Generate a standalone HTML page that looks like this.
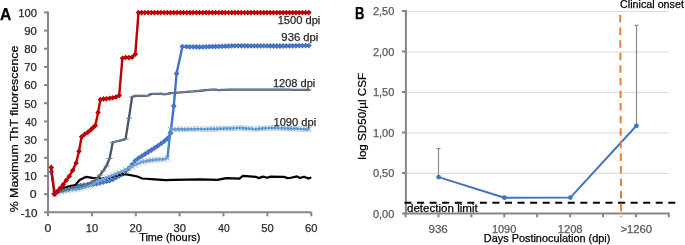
<!DOCTYPE html><html><head><meta charset="utf-8"><style>html,body{margin:0;padding:0;background:#fff;}svg{display:block;}.t{filter:grayscale(1)}text{font-family:"Liberation Sans", sans-serif;}</style></head><body>
<svg width="685" height="245" viewBox="0 0 685 245">
<rect width="685" height="245" fill="#fff"/>
<g stroke="#868686" stroke-width="2" fill="none">
<line x1="48" y1="11.4" x2="48" y2="213.3"/>
<line x1="47" y1="212.3" x2="311.3" y2="212.3"/>
<line x1="44" y1="212.3" x2="48" y2="212.3"/>
<line x1="44" y1="194.1" x2="48" y2="194.1"/>
<line x1="44" y1="175.9" x2="48" y2="175.9"/>
<line x1="44" y1="157.8" x2="48" y2="157.8"/>
<line x1="44" y1="139.6" x2="48" y2="139.6"/>
<line x1="44" y1="121.4" x2="48" y2="121.4"/>
<line x1="44" y1="103.2" x2="48" y2="103.2"/>
<line x1="44" y1="85.1" x2="48" y2="85.1"/>
<line x1="44" y1="66.9" x2="48" y2="66.9"/>
<line x1="44" y1="48.7" x2="48" y2="48.7"/>
<line x1="44" y1="30.6" x2="48" y2="30.6"/>
<line x1="44" y1="12.4" x2="48" y2="12.4"/>
<line x1="48.0" y1="212.3" x2="48.0" y2="216.3"/>
<line x1="91.9" y1="212.3" x2="91.9" y2="216.3"/>
<line x1="135.8" y1="212.3" x2="135.8" y2="216.3"/>
<line x1="179.6" y1="212.3" x2="179.6" y2="216.3"/>
<line x1="223.5" y1="212.3" x2="223.5" y2="216.3"/>
<line x1="267.4" y1="212.3" x2="267.4" y2="216.3"/>
<line x1="311.3" y1="212.3" x2="311.3" y2="216.3"/>
</g>
<polyline points="51.2,171.8 55.0,194.0 58.2,191.3 61.4,190.0 64.6,188.8 67.8,188.0 71.0,187.2 74.2,186.6 77.5,186.1 80.7,185.5 83.9,185.2 87.1,184.9 90.3,184.6 93.5,184.0 96.7,183.5 99.9,183.0 103.2,182.2 106.4,181.4 109.6,180.5 112.8,179.3 116.0,177.7 119.2,175.9 122.4,174.0 125.6,171.3 128.9,168.3 132.1,164.6 135.3,160.7 138.5,158.2 141.7,156.2 144.9,154.1 148.1,152.0 151.4,150.0 154.6,147.9 157.8,145.8 161.0,143.7 164.2,141.2 167.4,138.5 170.6,133.1 173.8,106.0 176.6,73.5 182.4,46.6 186.7,46.7 189.9,46.8 193.1,46.8 196.3,46.9 199.5,47.0 202.8,46.9 206.0,46.8 209.2,46.7 212.4,46.6 215.6,46.5 218.8,46.4 222.0,46.3 225.3,46.2 228.5,46.1 231.7,45.9 234.9,45.8 238.1,45.8 241.3,45.8 244.5,45.8 247.7,45.9 251.0,45.9 254.2,45.9 257.4,45.9 260.6,45.9 263.8,45.9 267.0,45.9 270.2,46.0 273.4,46.0 276.7,46.0 279.9,46.0 283.1,46.0 286.3,45.9 289.5,45.9 292.7,45.8 295.9,45.8 299.1,45.7 302.4,45.7 305.6,45.6 308.8,45.6" fill="none" stroke="#4472C4" stroke-width="2.4" stroke-linejoin="round" stroke-linecap="round" />
<path d="M51.2 168.9l2.9 2.9l-2.9 2.9l-2.9 -2.9z" fill="#4472C4"/>
<path d="M55.0 191.1l2.9 2.9l-2.9 2.9l-2.9 -2.9z" fill="#4472C4"/>
<path d="M58.2 188.4l2.9 2.9l-2.9 2.9l-2.9 -2.9z" fill="#4472C4"/>
<path d="M61.4 187.1l2.9 2.9l-2.9 2.9l-2.9 -2.9z" fill="#4472C4"/>
<path d="M64.6 185.9l2.9 2.9l-2.9 2.9l-2.9 -2.9z" fill="#4472C4"/>
<path d="M67.8 185.1l2.9 2.9l-2.9 2.9l-2.9 -2.9z" fill="#4472C4"/>
<path d="M71.0 184.3l2.9 2.9l-2.9 2.9l-2.9 -2.9z" fill="#4472C4"/>
<path d="M74.2 183.7l2.9 2.9l-2.9 2.9l-2.9 -2.9z" fill="#4472C4"/>
<path d="M77.5 183.2l2.9 2.9l-2.9 2.9l-2.9 -2.9z" fill="#4472C4"/>
<path d="M80.7 182.6l2.9 2.9l-2.9 2.9l-2.9 -2.9z" fill="#4472C4"/>
<path d="M83.9 182.3l2.9 2.9l-2.9 2.9l-2.9 -2.9z" fill="#4472C4"/>
<path d="M87.1 182.0l2.9 2.9l-2.9 2.9l-2.9 -2.9z" fill="#4472C4"/>
<path d="M90.3 181.7l2.9 2.9l-2.9 2.9l-2.9 -2.9z" fill="#4472C4"/>
<path d="M93.5 181.1l2.9 2.9l-2.9 2.9l-2.9 -2.9z" fill="#4472C4"/>
<path d="M96.7 180.6l2.9 2.9l-2.9 2.9l-2.9 -2.9z" fill="#4472C4"/>
<path d="M99.9 180.1l2.9 2.9l-2.9 2.9l-2.9 -2.9z" fill="#4472C4"/>
<path d="M103.2 179.3l2.9 2.9l-2.9 2.9l-2.9 -2.9z" fill="#4472C4"/>
<path d="M106.4 178.5l2.9 2.9l-2.9 2.9l-2.9 -2.9z" fill="#4472C4"/>
<path d="M109.6 177.6l2.9 2.9l-2.9 2.9l-2.9 -2.9z" fill="#4472C4"/>
<path d="M112.8 176.4l2.9 2.9l-2.9 2.9l-2.9 -2.9z" fill="#4472C4"/>
<path d="M116.0 174.8l2.9 2.9l-2.9 2.9l-2.9 -2.9z" fill="#4472C4"/>
<path d="M119.2 173.0l2.9 2.9l-2.9 2.9l-2.9 -2.9z" fill="#4472C4"/>
<path d="M122.4 171.1l2.9 2.9l-2.9 2.9l-2.9 -2.9z" fill="#4472C4"/>
<path d="M125.6 168.4l2.9 2.9l-2.9 2.9l-2.9 -2.9z" fill="#4472C4"/>
<path d="M128.9 165.4l2.9 2.9l-2.9 2.9l-2.9 -2.9z" fill="#4472C4"/>
<path d="M132.1 161.7l2.9 2.9l-2.9 2.9l-2.9 -2.9z" fill="#4472C4"/>
<path d="M135.3 157.8l2.9 2.9l-2.9 2.9l-2.9 -2.9z" fill="#4472C4"/>
<path d="M138.5 155.3l2.9 2.9l-2.9 2.9l-2.9 -2.9z" fill="#4472C4"/>
<path d="M141.7 153.3l2.9 2.9l-2.9 2.9l-2.9 -2.9z" fill="#4472C4"/>
<path d="M144.9 151.2l2.9 2.9l-2.9 2.9l-2.9 -2.9z" fill="#4472C4"/>
<path d="M148.1 149.1l2.9 2.9l-2.9 2.9l-2.9 -2.9z" fill="#4472C4"/>
<path d="M151.4 147.1l2.9 2.9l-2.9 2.9l-2.9 -2.9z" fill="#4472C4"/>
<path d="M154.6 145.0l2.9 2.9l-2.9 2.9l-2.9 -2.9z" fill="#4472C4"/>
<path d="M157.8 142.9l2.9 2.9l-2.9 2.9l-2.9 -2.9z" fill="#4472C4"/>
<path d="M161.0 140.8l2.9 2.9l-2.9 2.9l-2.9 -2.9z" fill="#4472C4"/>
<path d="M164.2 138.3l2.9 2.9l-2.9 2.9l-2.9 -2.9z" fill="#4472C4"/>
<path d="M167.4 135.6l2.9 2.9l-2.9 2.9l-2.9 -2.9z" fill="#4472C4"/>
<path d="M170.6 130.2l2.9 2.9l-2.9 2.9l-2.9 -2.9z" fill="#4472C4"/>
<path d="M173.8 103.1l2.9 2.9l-2.9 2.9l-2.9 -2.9z" fill="#4472C4"/>
<path d="M176.6 70.6l2.9 2.9l-2.9 2.9l-2.9 -2.9z" fill="#4472C4"/>
<path d="M182.4 43.7l2.9 2.9l-2.9 2.9l-2.9 -2.9z" fill="#4472C4"/>
<path d="M186.7 43.8l2.9 2.9l-2.9 2.9l-2.9 -2.9z" fill="#4472C4"/>
<path d="M189.9 43.9l2.9 2.9l-2.9 2.9l-2.9 -2.9z" fill="#4472C4"/>
<path d="M193.1 43.9l2.9 2.9l-2.9 2.9l-2.9 -2.9z" fill="#4472C4"/>
<path d="M196.3 44.0l2.9 2.9l-2.9 2.9l-2.9 -2.9z" fill="#4472C4"/>
<path d="M199.5 44.1l2.9 2.9l-2.9 2.9l-2.9 -2.9z" fill="#4472C4"/>
<path d="M202.8 44.0l2.9 2.9l-2.9 2.9l-2.9 -2.9z" fill="#4472C4"/>
<path d="M206.0 43.9l2.9 2.9l-2.9 2.9l-2.9 -2.9z" fill="#4472C4"/>
<path d="M209.2 43.8l2.9 2.9l-2.9 2.9l-2.9 -2.9z" fill="#4472C4"/>
<path d="M212.4 43.7l2.9 2.9l-2.9 2.9l-2.9 -2.9z" fill="#4472C4"/>
<path d="M215.6 43.6l2.9 2.9l-2.9 2.9l-2.9 -2.9z" fill="#4472C4"/>
<path d="M218.8 43.5l2.9 2.9l-2.9 2.9l-2.9 -2.9z" fill="#4472C4"/>
<path d="M222.0 43.4l2.9 2.9l-2.9 2.9l-2.9 -2.9z" fill="#4472C4"/>
<path d="M225.3 43.3l2.9 2.9l-2.9 2.9l-2.9 -2.9z" fill="#4472C4"/>
<path d="M228.5 43.2l2.9 2.9l-2.9 2.9l-2.9 -2.9z" fill="#4472C4"/>
<path d="M231.7 43.0l2.9 2.9l-2.9 2.9l-2.9 -2.9z" fill="#4472C4"/>
<path d="M234.9 42.9l2.9 2.9l-2.9 2.9l-2.9 -2.9z" fill="#4472C4"/>
<path d="M238.1 42.9l2.9 2.9l-2.9 2.9l-2.9 -2.9z" fill="#4472C4"/>
<path d="M241.3 42.9l2.9 2.9l-2.9 2.9l-2.9 -2.9z" fill="#4472C4"/>
<path d="M244.5 42.9l2.9 2.9l-2.9 2.9l-2.9 -2.9z" fill="#4472C4"/>
<path d="M247.7 43.0l2.9 2.9l-2.9 2.9l-2.9 -2.9z" fill="#4472C4"/>
<path d="M251.0 43.0l2.9 2.9l-2.9 2.9l-2.9 -2.9z" fill="#4472C4"/>
<path d="M254.2 43.0l2.9 2.9l-2.9 2.9l-2.9 -2.9z" fill="#4472C4"/>
<path d="M257.4 43.0l2.9 2.9l-2.9 2.9l-2.9 -2.9z" fill="#4472C4"/>
<path d="M260.6 43.0l2.9 2.9l-2.9 2.9l-2.9 -2.9z" fill="#4472C4"/>
<path d="M263.8 43.0l2.9 2.9l-2.9 2.9l-2.9 -2.9z" fill="#4472C4"/>
<path d="M267.0 43.0l2.9 2.9l-2.9 2.9l-2.9 -2.9z" fill="#4472C4"/>
<path d="M270.2 43.1l2.9 2.9l-2.9 2.9l-2.9 -2.9z" fill="#4472C4"/>
<path d="M273.4 43.1l2.9 2.9l-2.9 2.9l-2.9 -2.9z" fill="#4472C4"/>
<path d="M276.7 43.1l2.9 2.9l-2.9 2.9l-2.9 -2.9z" fill="#4472C4"/>
<path d="M279.9 43.1l2.9 2.9l-2.9 2.9l-2.9 -2.9z" fill="#4472C4"/>
<path d="M283.1 43.1l2.9 2.9l-2.9 2.9l-2.9 -2.9z" fill="#4472C4"/>
<path d="M286.3 43.0l2.9 2.9l-2.9 2.9l-2.9 -2.9z" fill="#4472C4"/>
<path d="M289.5 43.0l2.9 2.9l-2.9 2.9l-2.9 -2.9z" fill="#4472C4"/>
<path d="M292.7 42.9l2.9 2.9l-2.9 2.9l-2.9 -2.9z" fill="#4472C4"/>
<path d="M295.9 42.9l2.9 2.9l-2.9 2.9l-2.9 -2.9z" fill="#4472C4"/>
<path d="M299.1 42.8l2.9 2.9l-2.9 2.9l-2.9 -2.9z" fill="#4472C4"/>
<path d="M302.4 42.8l2.9 2.9l-2.9 2.9l-2.9 -2.9z" fill="#4472C4"/>
<path d="M305.6 42.7l2.9 2.9l-2.9 2.9l-2.9 -2.9z" fill="#4472C4"/>
<path d="M308.8 42.7l2.9 2.9l-2.9 2.9l-2.9 -2.9z" fill="#4472C4"/>
<polyline points="54.2,193.0 60.9,189.0 68.5,186.6 75.1,185.2 79.6,180.0 86.2,176.8 92.3,177.8 98.0,178.3 106.4,178.3 112.3,176.6 122.3,174.2 128.0,174.6 137.4,176.5 142.2,178.5 155.1,179.4 165.3,180.2 174.0,179.8 200.0,179.4 217.5,179.9 226.3,178.1 239.4,178.7 242.9,175.9 256.1,176.9 258.7,178.1 263.1,176.6 267.4,177.8 270.0,176.7 284.1,176.9 287.6,178.1 290.0,178.0 297.0,176.4 300.0,178.0 304.0,176.7 308.5,178.6 310.5,177.7" fill="none" stroke="#000" stroke-width="2.2" stroke-linejoin="round" stroke-linecap="round" />
<polyline points="54.4,194.0 58.2,192.4 61.4,191.7 64.6,191.1 67.8,190.4 71.0,189.9 74.2,189.4 77.5,189.0 80.7,188.4 83.9,187.4 87.1,186.4 90.3,185.3 93.5,183.6 96.7,181.9 99.9,180.4 103.2,179.1 106.4,177.7 109.6,176.4 112.8,175.1 116.0,173.8 119.2,172.6 122.4,171.3 125.6,169.8 128.9,168.1 132.1,166.5 135.3,164.9 138.5,163.4 141.7,161.9 144.9,161.4 148.1,160.8 151.4,160.2 154.6,159.9 157.8,159.6 161.0,159.4 164.2,159.2 167.4,158.2 170.6,129.4 173.8,129.4 177.1,129.3 180.3,129.3 183.5,129.3 186.7,129.2 189.9,129.2 193.1,129.2 196.3,129.1 199.5,129.1 202.8,129.1 206.0,129.1 209.2,129.0 212.4,129.0 215.6,129.0 218.8,128.8 222.0,128.7 225.3,128.5 228.5,128.4 231.7,128.3 234.9,128.1 238.1,128.0 241.3,128.0 244.5,128.3 247.7,128.6 251.0,128.8 254.2,129.1 257.4,129.0 260.6,128.6 263.8,128.3 267.0,128.1 270.2,128.0 273.4,127.9 276.7,128.0 279.9,128.1 283.1,128.2 286.3,128.4 289.5,128.5 292.7,128.6 295.9,128.7 299.1,128.9 302.4,129.1 305.6,129.2 308.8,129.4" fill="none" stroke="#4A86C6" stroke-width="2.4" stroke-linejoin="round" stroke-linecap="round" />
<path d="M51.7 191.3l5.4 5.4M57.1 191.3l-5.4 5.4" fill="none" stroke="#86B0DF" stroke-width="1"/>
<path d="M55.5 189.7l5.4 5.4M60.9 189.7l-5.4 5.4" fill="none" stroke="#86B0DF" stroke-width="1"/>
<path d="M58.7 189.0l5.4 5.4M64.1 189.0l-5.4 5.4" fill="none" stroke="#86B0DF" stroke-width="1"/>
<path d="M61.9 188.4l5.4 5.4M67.3 188.4l-5.4 5.4" fill="none" stroke="#86B0DF" stroke-width="1"/>
<path d="M65.1 187.7l5.4 5.4M70.5 187.7l-5.4 5.4" fill="none" stroke="#86B0DF" stroke-width="1"/>
<path d="M68.3 187.2l5.4 5.4M73.7 187.2l-5.4 5.4" fill="none" stroke="#86B0DF" stroke-width="1"/>
<path d="M71.5 186.7l5.4 5.4M76.9 186.7l-5.4 5.4" fill="none" stroke="#86B0DF" stroke-width="1"/>
<path d="M74.8 186.3l5.4 5.4M80.2 186.3l-5.4 5.4" fill="none" stroke="#86B0DF" stroke-width="1"/>
<path d="M78.0 185.7l5.4 5.4M83.4 185.7l-5.4 5.4" fill="none" stroke="#86B0DF" stroke-width="1"/>
<path d="M81.2 184.7l5.4 5.4M86.6 184.7l-5.4 5.4" fill="none" stroke="#86B0DF" stroke-width="1"/>
<path d="M84.4 183.7l5.4 5.4M89.8 183.7l-5.4 5.4" fill="none" stroke="#86B0DF" stroke-width="1"/>
<path d="M87.6 182.6l5.4 5.4M93.0 182.6l-5.4 5.4" fill="none" stroke="#86B0DF" stroke-width="1"/>
<path d="M90.8 180.9l5.4 5.4M96.2 180.9l-5.4 5.4" fill="none" stroke="#86B0DF" stroke-width="1"/>
<path d="M94.0 179.2l5.4 5.4M99.4 179.2l-5.4 5.4" fill="none" stroke="#86B0DF" stroke-width="1"/>
<path d="M97.2 177.7l5.4 5.4M102.6 177.7l-5.4 5.4" fill="none" stroke="#86B0DF" stroke-width="1"/>
<path d="M100.5 176.4l5.4 5.4M105.9 176.4l-5.4 5.4" fill="none" stroke="#86B0DF" stroke-width="1"/>
<path d="M103.7 175.0l5.4 5.4M109.1 175.0l-5.4 5.4" fill="none" stroke="#86B0DF" stroke-width="1"/>
<path d="M106.9 173.7l5.4 5.4M112.3 173.7l-5.4 5.4" fill="none" stroke="#86B0DF" stroke-width="1"/>
<path d="M110.1 172.4l5.4 5.4M115.5 172.4l-5.4 5.4" fill="none" stroke="#86B0DF" stroke-width="1"/>
<path d="M113.3 171.1l5.4 5.4M118.7 171.1l-5.4 5.4" fill="none" stroke="#86B0DF" stroke-width="1"/>
<path d="M116.5 169.9l5.4 5.4M121.9 169.9l-5.4 5.4" fill="none" stroke="#86B0DF" stroke-width="1"/>
<path d="M119.7 168.6l5.4 5.4M125.1 168.6l-5.4 5.4" fill="none" stroke="#86B0DF" stroke-width="1"/>
<path d="M122.9 167.1l5.4 5.4M128.3 167.1l-5.4 5.4" fill="none" stroke="#86B0DF" stroke-width="1"/>
<path d="M126.2 165.4l5.4 5.4M131.6 165.4l-5.4 5.4" fill="none" stroke="#86B0DF" stroke-width="1"/>
<path d="M129.4 163.8l5.4 5.4M134.8 163.8l-5.4 5.4" fill="none" stroke="#86B0DF" stroke-width="1"/>
<path d="M132.6 162.2l5.4 5.4M138.0 162.2l-5.4 5.4" fill="none" stroke="#86B0DF" stroke-width="1"/>
<path d="M135.8 160.7l5.4 5.4M141.2 160.7l-5.4 5.4" fill="none" stroke="#86B0DF" stroke-width="1"/>
<path d="M139.0 159.2l5.4 5.4M144.4 159.2l-5.4 5.4" fill="none" stroke="#86B0DF" stroke-width="1"/>
<path d="M142.2 158.7l5.4 5.4M147.6 158.7l-5.4 5.4" fill="none" stroke="#86B0DF" stroke-width="1"/>
<path d="M145.4 158.1l5.4 5.4M150.8 158.1l-5.4 5.4" fill="none" stroke="#86B0DF" stroke-width="1"/>
<path d="M148.7 157.5l5.4 5.4M154.1 157.5l-5.4 5.4" fill="none" stroke="#86B0DF" stroke-width="1"/>
<path d="M151.9 157.2l5.4 5.4M157.3 157.2l-5.4 5.4" fill="none" stroke="#86B0DF" stroke-width="1"/>
<path d="M155.1 156.9l5.4 5.4M160.5 156.9l-5.4 5.4" fill="none" stroke="#86B0DF" stroke-width="1"/>
<path d="M158.3 156.7l5.4 5.4M163.7 156.7l-5.4 5.4" fill="none" stroke="#86B0DF" stroke-width="1"/>
<path d="M161.5 156.5l5.4 5.4M166.9 156.5l-5.4 5.4" fill="none" stroke="#86B0DF" stroke-width="1"/>
<path d="M164.7 155.5l5.4 5.4M170.1 155.5l-5.4 5.4" fill="none" stroke="#86B0DF" stroke-width="1"/>
<path d="M167.9 126.7l5.4 5.4M173.3 126.7l-5.4 5.4" fill="none" stroke="#86B0DF" stroke-width="1"/>
<path d="M171.1 126.7l5.4 5.4M176.5 126.7l-5.4 5.4" fill="none" stroke="#86B0DF" stroke-width="1"/>
<path d="M174.4 126.6l5.4 5.4M179.8 126.6l-5.4 5.4" fill="none" stroke="#86B0DF" stroke-width="1"/>
<path d="M177.6 126.6l5.4 5.4M183.0 126.6l-5.4 5.4" fill="none" stroke="#86B0DF" stroke-width="1"/>
<path d="M180.8 126.6l5.4 5.4M186.2 126.6l-5.4 5.4" fill="none" stroke="#86B0DF" stroke-width="1"/>
<path d="M184.0 126.5l5.4 5.4M189.4 126.5l-5.4 5.4" fill="none" stroke="#86B0DF" stroke-width="1"/>
<path d="M187.2 126.5l5.4 5.4M192.6 126.5l-5.4 5.4" fill="none" stroke="#86B0DF" stroke-width="1"/>
<path d="M190.4 126.5l5.4 5.4M195.8 126.5l-5.4 5.4" fill="none" stroke="#86B0DF" stroke-width="1"/>
<path d="M193.6 126.4l5.4 5.4M199.0 126.4l-5.4 5.4" fill="none" stroke="#86B0DF" stroke-width="1"/>
<path d="M196.8 126.4l5.4 5.4M202.2 126.4l-5.4 5.4" fill="none" stroke="#86B0DF" stroke-width="1"/>
<path d="M200.1 126.4l5.4 5.4M205.5 126.4l-5.4 5.4" fill="none" stroke="#86B0DF" stroke-width="1"/>
<path d="M203.3 126.4l5.4 5.4M208.7 126.4l-5.4 5.4" fill="none" stroke="#86B0DF" stroke-width="1"/>
<path d="M206.5 126.3l5.4 5.4M211.9 126.3l-5.4 5.4" fill="none" stroke="#86B0DF" stroke-width="1"/>
<path d="M209.7 126.3l5.4 5.4M215.1 126.3l-5.4 5.4" fill="none" stroke="#86B0DF" stroke-width="1"/>
<path d="M212.9 126.3l5.4 5.4M218.3 126.3l-5.4 5.4" fill="none" stroke="#86B0DF" stroke-width="1"/>
<path d="M216.1 126.1l5.4 5.4M221.5 126.1l-5.4 5.4" fill="none" stroke="#86B0DF" stroke-width="1"/>
<path d="M219.3 126.0l5.4 5.4M224.7 126.0l-5.4 5.4" fill="none" stroke="#86B0DF" stroke-width="1"/>
<path d="M222.6 125.8l5.4 5.4M228.0 125.8l-5.4 5.4" fill="none" stroke="#86B0DF" stroke-width="1"/>
<path d="M225.8 125.7l5.4 5.4M231.2 125.7l-5.4 5.4" fill="none" stroke="#86B0DF" stroke-width="1"/>
<path d="M229.0 125.6l5.4 5.4M234.4 125.6l-5.4 5.4" fill="none" stroke="#86B0DF" stroke-width="1"/>
<path d="M232.2 125.4l5.4 5.4M237.6 125.4l-5.4 5.4" fill="none" stroke="#86B0DF" stroke-width="1"/>
<path d="M235.4 125.3l5.4 5.4M240.8 125.3l-5.4 5.4" fill="none" stroke="#86B0DF" stroke-width="1"/>
<path d="M238.6 125.3l5.4 5.4M244.0 125.3l-5.4 5.4" fill="none" stroke="#86B0DF" stroke-width="1"/>
<path d="M241.8 125.6l5.4 5.4M247.2 125.6l-5.4 5.4" fill="none" stroke="#86B0DF" stroke-width="1"/>
<path d="M245.0 125.9l5.4 5.4M250.4 125.9l-5.4 5.4" fill="none" stroke="#86B0DF" stroke-width="1"/>
<path d="M248.3 126.1l5.4 5.4M253.7 126.1l-5.4 5.4" fill="none" stroke="#86B0DF" stroke-width="1"/>
<path d="M251.5 126.4l5.4 5.4M256.9 126.4l-5.4 5.4" fill="none" stroke="#86B0DF" stroke-width="1"/>
<path d="M254.7 126.3l5.4 5.4M260.1 126.3l-5.4 5.4" fill="none" stroke="#86B0DF" stroke-width="1"/>
<path d="M257.9 125.9l5.4 5.4M263.3 125.9l-5.4 5.4" fill="none" stroke="#86B0DF" stroke-width="1"/>
<path d="M261.1 125.6l5.4 5.4M266.5 125.6l-5.4 5.4" fill="none" stroke="#86B0DF" stroke-width="1"/>
<path d="M264.3 125.4l5.4 5.4M269.7 125.4l-5.4 5.4" fill="none" stroke="#86B0DF" stroke-width="1"/>
<path d="M267.5 125.3l5.4 5.4M272.9 125.3l-5.4 5.4" fill="none" stroke="#86B0DF" stroke-width="1"/>
<path d="M270.7 125.2l5.4 5.4M276.1 125.2l-5.4 5.4" fill="none" stroke="#86B0DF" stroke-width="1"/>
<path d="M274.0 125.3l5.4 5.4M279.4 125.3l-5.4 5.4" fill="none" stroke="#86B0DF" stroke-width="1"/>
<path d="M277.2 125.4l5.4 5.4M282.6 125.4l-5.4 5.4" fill="none" stroke="#86B0DF" stroke-width="1"/>
<path d="M280.4 125.5l5.4 5.4M285.8 125.5l-5.4 5.4" fill="none" stroke="#86B0DF" stroke-width="1"/>
<path d="M283.6 125.7l5.4 5.4M289.0 125.7l-5.4 5.4" fill="none" stroke="#86B0DF" stroke-width="1"/>
<path d="M286.8 125.8l5.4 5.4M292.2 125.8l-5.4 5.4" fill="none" stroke="#86B0DF" stroke-width="1"/>
<path d="M290.0 125.9l5.4 5.4M295.4 125.9l-5.4 5.4" fill="none" stroke="#86B0DF" stroke-width="1"/>
<path d="M293.2 126.0l5.4 5.4M298.6 126.0l-5.4 5.4" fill="none" stroke="#86B0DF" stroke-width="1"/>
<path d="M296.4 126.2l5.4 5.4M301.8 126.2l-5.4 5.4" fill="none" stroke="#86B0DF" stroke-width="1"/>
<path d="M299.7 126.4l5.4 5.4M305.1 126.4l-5.4 5.4" fill="none" stroke="#86B0DF" stroke-width="1"/>
<path d="M302.9 126.5l5.4 5.4M308.3 126.5l-5.4 5.4" fill="none" stroke="#86B0DF" stroke-width="1"/>
<path d="M306.1 126.7l5.4 5.4M311.5 126.7l-5.4 5.4" fill="none" stroke="#86B0DF" stroke-width="1"/>
<polyline points="54.4,193.5 58.2,192.1 61.4,190.9 64.6,189.7 67.8,188.8 71.0,188.0 74.2,187.2 77.5,186.7 80.7,186.2 83.9,185.2 87.1,184.3 90.3,182.8 93.5,181.1 96.7,178.9 99.9,175.1 103.2,170.9 106.4,166.0 109.6,158.5 112.8,142.3 116.0,141.5 119.2,140.8 122.4,140.0 125.6,138.9 128.9,118.1 132.1,97.0 135.3,95.7 138.5,95.8 141.7,95.9 144.9,95.9 148.1,95.6 151.4,93.9 154.6,93.8 157.8,93.8 161.0,93.7 164.2,94.4 167.4,93.8 170.6,93.1 173.8,92.9 177.1,92.6 180.3,92.4 183.5,92.1 186.7,91.9 189.9,91.6 193.1,91.4 196.3,91.1 199.5,90.8 202.8,90.5 206.0,90.2 209.2,89.9 212.4,89.6 215.6,89.7 218.8,90.1 222.0,89.9 225.3,89.8 228.5,89.7 231.7,89.6 234.9,89.6 238.1,89.6 241.3,89.6 244.5,89.6 247.7,89.6 251.0,89.6 254.2,89.6 257.4,89.6 260.6,89.6 263.8,89.6 267.0,89.6 270.2,89.6 273.4,89.6 276.7,89.6 279.9,89.6 283.1,89.6 286.3,89.7 289.5,89.7 292.7,89.8 295.9,89.8 299.1,89.9 302.4,89.9 305.6,89.9 308.8,90.0" fill="none" stroke="#44546A" stroke-width="2.3" stroke-linejoin="round" stroke-linecap="round" />
<path d="M51.4 193.5h6" stroke="#6F7F99" stroke-width="1"/>
<path d="M55.2 192.1h6" stroke="#6F7F99" stroke-width="1"/>
<path d="M58.4 190.9h6" stroke="#6F7F99" stroke-width="1"/>
<path d="M61.6 189.7h6" stroke="#6F7F99" stroke-width="1"/>
<path d="M64.8 188.8h6" stroke="#6F7F99" stroke-width="1"/>
<path d="M68.0 188.0h6" stroke="#6F7F99" stroke-width="1"/>
<path d="M71.2 187.2h6" stroke="#6F7F99" stroke-width="1"/>
<path d="M74.5 186.7h6" stroke="#6F7F99" stroke-width="1"/>
<path d="M77.7 186.2h6" stroke="#6F7F99" stroke-width="1"/>
<path d="M80.9 185.2h6" stroke="#6F7F99" stroke-width="1"/>
<path d="M84.1 184.3h6" stroke="#6F7F99" stroke-width="1"/>
<path d="M87.3 182.8h6" stroke="#6F7F99" stroke-width="1"/>
<path d="M90.5 181.1h6" stroke="#6F7F99" stroke-width="1"/>
<path d="M93.7 178.9h6" stroke="#6F7F99" stroke-width="1"/>
<path d="M96.9 175.1h6" stroke="#6F7F99" stroke-width="1"/>
<path d="M100.2 170.9h6" stroke="#6F7F99" stroke-width="1"/>
<path d="M103.4 166.0h6" stroke="#6F7F99" stroke-width="1"/>
<path d="M106.6 158.5h6" stroke="#6F7F99" stroke-width="1"/>
<path d="M109.8 142.3h6" stroke="#6F7F99" stroke-width="1"/>
<path d="M113.0 141.5h6" stroke="#6F7F99" stroke-width="1"/>
<path d="M116.2 140.8h6" stroke="#6F7F99" stroke-width="1"/>
<path d="M119.4 140.0h6" stroke="#6F7F99" stroke-width="1"/>
<path d="M122.6 138.9h6" stroke="#6F7F99" stroke-width="1"/>
<path d="M125.9 118.1h6" stroke="#6F7F99" stroke-width="1"/>
<path d="M129.1 97.0h6" stroke="#6F7F99" stroke-width="1"/>
<path d="M132.3 95.7h6" stroke="#6F7F99" stroke-width="1"/>
<path d="M135.5 95.8h6" stroke="#6F7F99" stroke-width="1"/>
<path d="M138.7 95.9h6" stroke="#6F7F99" stroke-width="1"/>
<path d="M141.9 95.9h6" stroke="#6F7F99" stroke-width="1"/>
<path d="M145.1 95.6h6" stroke="#6F7F99" stroke-width="1"/>
<path d="M148.4 93.9h6" stroke="#6F7F99" stroke-width="1"/>
<path d="M151.6 93.8h6" stroke="#6F7F99" stroke-width="1"/>
<path d="M154.8 93.8h6" stroke="#6F7F99" stroke-width="1"/>
<path d="M158.0 93.7h6" stroke="#6F7F99" stroke-width="1"/>
<path d="M161.2 94.4h6" stroke="#6F7F99" stroke-width="1"/>
<path d="M164.4 93.8h6" stroke="#6F7F99" stroke-width="1"/>
<path d="M167.6 93.1h6" stroke="#6F7F99" stroke-width="1"/>
<path d="M170.8 92.9h6" stroke="#6F7F99" stroke-width="1"/>
<path d="M174.1 92.6h6" stroke="#6F7F99" stroke-width="1"/>
<path d="M177.3 92.4h6" stroke="#6F7F99" stroke-width="1"/>
<path d="M180.5 92.1h6" stroke="#6F7F99" stroke-width="1"/>
<path d="M183.7 91.9h6" stroke="#6F7F99" stroke-width="1"/>
<path d="M186.9 91.6h6" stroke="#6F7F99" stroke-width="1"/>
<path d="M190.1 91.4h6" stroke="#6F7F99" stroke-width="1"/>
<path d="M193.3 91.1h6" stroke="#6F7F99" stroke-width="1"/>
<path d="M196.5 90.8h6" stroke="#6F7F99" stroke-width="1"/>
<path d="M199.8 90.5h6" stroke="#6F7F99" stroke-width="1"/>
<path d="M203.0 90.2h6" stroke="#6F7F99" stroke-width="1"/>
<path d="M206.2 89.9h6" stroke="#6F7F99" stroke-width="1"/>
<path d="M209.4 89.6h6" stroke="#6F7F99" stroke-width="1"/>
<path d="M212.6 89.7h6" stroke="#6F7F99" stroke-width="1"/>
<path d="M215.8 90.1h6" stroke="#6F7F99" stroke-width="1"/>
<path d="M219.0 89.9h6" stroke="#6F7F99" stroke-width="1"/>
<path d="M222.3 89.8h6" stroke="#6F7F99" stroke-width="1"/>
<path d="M225.5 89.7h6" stroke="#6F7F99" stroke-width="1"/>
<path d="M228.7 89.6h6" stroke="#6F7F99" stroke-width="1"/>
<path d="M231.9 89.6h6" stroke="#6F7F99" stroke-width="1"/>
<path d="M235.1 89.6h6" stroke="#6F7F99" stroke-width="1"/>
<path d="M238.3 89.6h6" stroke="#6F7F99" stroke-width="1"/>
<path d="M241.5 89.6h6" stroke="#6F7F99" stroke-width="1"/>
<path d="M244.7 89.6h6" stroke="#6F7F99" stroke-width="1"/>
<path d="M248.0 89.6h6" stroke="#6F7F99" stroke-width="1"/>
<path d="M251.2 89.6h6" stroke="#6F7F99" stroke-width="1"/>
<path d="M254.4 89.6h6" stroke="#6F7F99" stroke-width="1"/>
<path d="M257.6 89.6h6" stroke="#6F7F99" stroke-width="1"/>
<path d="M260.8 89.6h6" stroke="#6F7F99" stroke-width="1"/>
<path d="M264.0 89.6h6" stroke="#6F7F99" stroke-width="1"/>
<path d="M267.2 89.6h6" stroke="#6F7F99" stroke-width="1"/>
<path d="M270.4 89.6h6" stroke="#6F7F99" stroke-width="1"/>
<path d="M273.7 89.6h6" stroke="#6F7F99" stroke-width="1"/>
<path d="M276.9 89.6h6" stroke="#6F7F99" stroke-width="1"/>
<path d="M280.1 89.6h6" stroke="#6F7F99" stroke-width="1"/>
<path d="M283.3 89.7h6" stroke="#6F7F99" stroke-width="1"/>
<path d="M286.5 89.7h6" stroke="#6F7F99" stroke-width="1"/>
<path d="M289.7 89.8h6" stroke="#6F7F99" stroke-width="1"/>
<path d="M292.9 89.8h6" stroke="#6F7F99" stroke-width="1"/>
<path d="M296.1 89.9h6" stroke="#6F7F99" stroke-width="1"/>
<path d="M299.4 89.9h6" stroke="#6F7F99" stroke-width="1"/>
<path d="M302.6 89.9h6" stroke="#6F7F99" stroke-width="1"/>
<path d="M305.8 90.0h6" stroke="#6F7F99" stroke-width="1"/>
<polyline points="51.2,167.4 54.4,194.3 57.3,191.3 60.3,188.0 63.3,184.4 66.3,180.2 69.3,176.2 72.7,170.4 76.1,163.0 79.0,151.2 81.6,136.8 84.6,134.3 87.8,132.3 91.0,129.6 93.4,127.3 95.3,125.5 98.1,112.4 100.4,99.6 103.5,98.9 106.4,98.7 109.6,98.2 112.8,97.7 116.0,97.0 119.2,95.4 122.4,58.2 125.6,57.5 128.9,57.6 132.1,57.2 135.3,54.2 138.5,12.6 141.7,12.6 144.9,12.6 148.1,12.6 151.4,12.6 154.6,12.6 157.8,12.6 161.0,12.6 164.2,12.6 167.4,12.6 170.6,12.6 173.8,12.6 177.1,12.6 180.3,12.6 183.5,12.6 186.7,12.6 189.9,12.6 193.1,12.6 196.3,12.6 199.5,12.6 202.8,12.6 206.0,12.6 209.2,12.6 212.4,12.6 215.6,12.6 218.8,12.6 222.0,12.6 225.3,12.6 228.5,12.6 231.7,12.6 234.9,12.6 238.1,12.6 241.3,12.6 244.5,12.6 247.7,12.6 251.0,12.6 254.2,12.6 257.4,12.6 260.6,12.6 263.8,12.6 267.0,12.6 270.2,12.6 273.4,12.6 276.7,12.6 279.9,12.6 283.1,12.6 286.3,12.6 289.5,12.6 292.7,12.6 295.9,12.6 299.1,12.6 302.4,12.6 305.6,12.6 308.8,12.6" fill="none" stroke="#C00000" stroke-width="2.4" stroke-linejoin="round" stroke-linecap="round" />
<path d="M51.2 164.6l2.8 2.8l-2.8 2.8l-2.8 -2.8z" fill="#C00000"/>
<path d="M54.4 191.5l2.8 2.8l-2.8 2.8l-2.8 -2.8z" fill="#C00000"/>
<path d="M57.3 188.5l2.8 2.8l-2.8 2.8l-2.8 -2.8z" fill="#C00000"/>
<path d="M60.3 185.2l2.8 2.8l-2.8 2.8l-2.8 -2.8z" fill="#C00000"/>
<path d="M63.3 181.6l2.8 2.8l-2.8 2.8l-2.8 -2.8z" fill="#C00000"/>
<path d="M66.3 177.4l2.8 2.8l-2.8 2.8l-2.8 -2.8z" fill="#C00000"/>
<path d="M69.3 173.4l2.8 2.8l-2.8 2.8l-2.8 -2.8z" fill="#C00000"/>
<path d="M72.7 167.6l2.8 2.8l-2.8 2.8l-2.8 -2.8z" fill="#C00000"/>
<path d="M76.1 160.2l2.8 2.8l-2.8 2.8l-2.8 -2.8z" fill="#C00000"/>
<path d="M79.0 148.4l2.8 2.8l-2.8 2.8l-2.8 -2.8z" fill="#C00000"/>
<path d="M81.6 134.0l2.8 2.8l-2.8 2.8l-2.8 -2.8z" fill="#C00000"/>
<path d="M84.6 131.5l2.8 2.8l-2.8 2.8l-2.8 -2.8z" fill="#C00000"/>
<path d="M87.8 129.5l2.8 2.8l-2.8 2.8l-2.8 -2.8z" fill="#C00000"/>
<path d="M91.0 126.8l2.8 2.8l-2.8 2.8l-2.8 -2.8z" fill="#C00000"/>
<path d="M93.4 124.5l2.8 2.8l-2.8 2.8l-2.8 -2.8z" fill="#C00000"/>
<path d="M95.3 122.7l2.8 2.8l-2.8 2.8l-2.8 -2.8z" fill="#C00000"/>
<path d="M98.1 109.6l2.8 2.8l-2.8 2.8l-2.8 -2.8z" fill="#C00000"/>
<path d="M100.4 96.8l2.8 2.8l-2.8 2.8l-2.8 -2.8z" fill="#C00000"/>
<path d="M103.5 96.1l2.8 2.8l-2.8 2.8l-2.8 -2.8z" fill="#C00000"/>
<path d="M106.4 95.9l2.8 2.8l-2.8 2.8l-2.8 -2.8z" fill="#C00000"/>
<path d="M109.6 95.4l2.8 2.8l-2.8 2.8l-2.8 -2.8z" fill="#C00000"/>
<path d="M112.8 94.9l2.8 2.8l-2.8 2.8l-2.8 -2.8z" fill="#C00000"/>
<path d="M116.0 94.2l2.8 2.8l-2.8 2.8l-2.8 -2.8z" fill="#C00000"/>
<path d="M119.2 92.6l2.8 2.8l-2.8 2.8l-2.8 -2.8z" fill="#C00000"/>
<path d="M122.4 55.4l2.8 2.8l-2.8 2.8l-2.8 -2.8z" fill="#C00000"/>
<path d="M125.6 54.7l2.8 2.8l-2.8 2.8l-2.8 -2.8z" fill="#C00000"/>
<path d="M128.9 54.8l2.8 2.8l-2.8 2.8l-2.8 -2.8z" fill="#C00000"/>
<path d="M132.1 54.4l2.8 2.8l-2.8 2.8l-2.8 -2.8z" fill="#C00000"/>
<path d="M135.3 51.4l2.8 2.8l-2.8 2.8l-2.8 -2.8z" fill="#C00000"/>
<path d="M138.5 9.8l2.8 2.8l-2.8 2.8l-2.8 -2.8z" fill="#C00000"/>
<path d="M141.7 9.8l2.8 2.8l-2.8 2.8l-2.8 -2.8z" fill="#C00000"/>
<path d="M144.9 9.8l2.8 2.8l-2.8 2.8l-2.8 -2.8z" fill="#C00000"/>
<path d="M148.1 9.8l2.8 2.8l-2.8 2.8l-2.8 -2.8z" fill="#C00000"/>
<path d="M151.4 9.8l2.8 2.8l-2.8 2.8l-2.8 -2.8z" fill="#C00000"/>
<path d="M154.6 9.8l2.8 2.8l-2.8 2.8l-2.8 -2.8z" fill="#C00000"/>
<path d="M157.8 9.8l2.8 2.8l-2.8 2.8l-2.8 -2.8z" fill="#C00000"/>
<path d="M161.0 9.8l2.8 2.8l-2.8 2.8l-2.8 -2.8z" fill="#C00000"/>
<path d="M164.2 9.8l2.8 2.8l-2.8 2.8l-2.8 -2.8z" fill="#C00000"/>
<path d="M167.4 9.8l2.8 2.8l-2.8 2.8l-2.8 -2.8z" fill="#C00000"/>
<path d="M170.6 9.8l2.8 2.8l-2.8 2.8l-2.8 -2.8z" fill="#C00000"/>
<path d="M173.8 9.8l2.8 2.8l-2.8 2.8l-2.8 -2.8z" fill="#C00000"/>
<path d="M177.1 9.8l2.8 2.8l-2.8 2.8l-2.8 -2.8z" fill="#C00000"/>
<path d="M180.3 9.8l2.8 2.8l-2.8 2.8l-2.8 -2.8z" fill="#C00000"/>
<path d="M183.5 9.8l2.8 2.8l-2.8 2.8l-2.8 -2.8z" fill="#C00000"/>
<path d="M186.7 9.8l2.8 2.8l-2.8 2.8l-2.8 -2.8z" fill="#C00000"/>
<path d="M189.9 9.8l2.8 2.8l-2.8 2.8l-2.8 -2.8z" fill="#C00000"/>
<path d="M193.1 9.8l2.8 2.8l-2.8 2.8l-2.8 -2.8z" fill="#C00000"/>
<path d="M196.3 9.8l2.8 2.8l-2.8 2.8l-2.8 -2.8z" fill="#C00000"/>
<path d="M199.5 9.8l2.8 2.8l-2.8 2.8l-2.8 -2.8z" fill="#C00000"/>
<path d="M202.8 9.8l2.8 2.8l-2.8 2.8l-2.8 -2.8z" fill="#C00000"/>
<path d="M206.0 9.8l2.8 2.8l-2.8 2.8l-2.8 -2.8z" fill="#C00000"/>
<path d="M209.2 9.8l2.8 2.8l-2.8 2.8l-2.8 -2.8z" fill="#C00000"/>
<path d="M212.4 9.8l2.8 2.8l-2.8 2.8l-2.8 -2.8z" fill="#C00000"/>
<path d="M215.6 9.8l2.8 2.8l-2.8 2.8l-2.8 -2.8z" fill="#C00000"/>
<path d="M218.8 9.8l2.8 2.8l-2.8 2.8l-2.8 -2.8z" fill="#C00000"/>
<path d="M222.0 9.8l2.8 2.8l-2.8 2.8l-2.8 -2.8z" fill="#C00000"/>
<path d="M225.3 9.8l2.8 2.8l-2.8 2.8l-2.8 -2.8z" fill="#C00000"/>
<path d="M228.5 9.8l2.8 2.8l-2.8 2.8l-2.8 -2.8z" fill="#C00000"/>
<path d="M231.7 9.8l2.8 2.8l-2.8 2.8l-2.8 -2.8z" fill="#C00000"/>
<path d="M234.9 9.8l2.8 2.8l-2.8 2.8l-2.8 -2.8z" fill="#C00000"/>
<path d="M238.1 9.8l2.8 2.8l-2.8 2.8l-2.8 -2.8z" fill="#C00000"/>
<path d="M241.3 9.8l2.8 2.8l-2.8 2.8l-2.8 -2.8z" fill="#C00000"/>
<path d="M244.5 9.8l2.8 2.8l-2.8 2.8l-2.8 -2.8z" fill="#C00000"/>
<path d="M247.7 9.8l2.8 2.8l-2.8 2.8l-2.8 -2.8z" fill="#C00000"/>
<path d="M251.0 9.8l2.8 2.8l-2.8 2.8l-2.8 -2.8z" fill="#C00000"/>
<path d="M254.2 9.8l2.8 2.8l-2.8 2.8l-2.8 -2.8z" fill="#C00000"/>
<path d="M257.4 9.8l2.8 2.8l-2.8 2.8l-2.8 -2.8z" fill="#C00000"/>
<path d="M260.6 9.8l2.8 2.8l-2.8 2.8l-2.8 -2.8z" fill="#C00000"/>
<path d="M263.8 9.8l2.8 2.8l-2.8 2.8l-2.8 -2.8z" fill="#C00000"/>
<path d="M267.0 9.8l2.8 2.8l-2.8 2.8l-2.8 -2.8z" fill="#C00000"/>
<path d="M270.2 9.8l2.8 2.8l-2.8 2.8l-2.8 -2.8z" fill="#C00000"/>
<path d="M273.4 9.8l2.8 2.8l-2.8 2.8l-2.8 -2.8z" fill="#C00000"/>
<path d="M276.7 9.8l2.8 2.8l-2.8 2.8l-2.8 -2.8z" fill="#C00000"/>
<path d="M279.9 9.8l2.8 2.8l-2.8 2.8l-2.8 -2.8z" fill="#C00000"/>
<path d="M283.1 9.8l2.8 2.8l-2.8 2.8l-2.8 -2.8z" fill="#C00000"/>
<path d="M286.3 9.8l2.8 2.8l-2.8 2.8l-2.8 -2.8z" fill="#C00000"/>
<path d="M289.5 9.8l2.8 2.8l-2.8 2.8l-2.8 -2.8z" fill="#C00000"/>
<path d="M292.7 9.8l2.8 2.8l-2.8 2.8l-2.8 -2.8z" fill="#C00000"/>
<path d="M295.9 9.8l2.8 2.8l-2.8 2.8l-2.8 -2.8z" fill="#C00000"/>
<path d="M299.1 9.8l2.8 2.8l-2.8 2.8l-2.8 -2.8z" fill="#C00000"/>
<path d="M302.4 9.8l2.8 2.8l-2.8 2.8l-2.8 -2.8z" fill="#C00000"/>
<path d="M305.6 9.8l2.8 2.8l-2.8 2.8l-2.8 -2.8z" fill="#C00000"/>
<path d="M308.8 9.8l2.8 2.8l-2.8 2.8l-2.8 -2.8z" fill="#C00000"/>
<g stroke="#d9d9d9" stroke-width="1">
<line x1="405.9" y1="173.4" x2="669" y2="173.4"/>
<line x1="405.9" y1="132.9" x2="669" y2="132.9"/>
<line x1="405.9" y1="92.4" x2="669" y2="92.4"/>
<line x1="405.9" y1="51.9" x2="669" y2="51.9"/>
<line x1="405.9" y1="11.4" x2="669" y2="11.4"/>
</g>
<g stroke="#868686" stroke-width="2" fill="none">
<line x1="405.9" y1="9.9" x2="405.9" y2="214.6"/>
<line x1="404.9" y1="213.6" x2="669.6" y2="213.6"/>
<line x1="402" y1="213.5" x2="405.9" y2="213.5"/>
<line x1="402" y1="173.0" x2="405.9" y2="173.0"/>
<line x1="402" y1="132.5" x2="405.9" y2="132.5"/>
<line x1="402" y1="92.0" x2="405.9" y2="92.0"/>
<line x1="402" y1="51.5" x2="405.9" y2="51.5"/>
<line x1="402" y1="11.0" x2="405.9" y2="11.0"/>
<line x1="405.6" y1="213.6" x2="405.6" y2="217.3"/>
<line x1="438.5" y1="213.6" x2="438.5" y2="217.3"/>
<line x1="471.4" y1="213.6" x2="471.4" y2="217.3"/>
<line x1="504.3" y1="213.6" x2="504.3" y2="217.3"/>
<line x1="537.2" y1="213.6" x2="537.2" y2="217.3"/>
<line x1="570.1" y1="213.6" x2="570.1" y2="217.3"/>
<line x1="603.0" y1="213.6" x2="603.0" y2="217.3"/>
<line x1="635.9" y1="213.6" x2="635.9" y2="217.3"/>
<line x1="668.8" y1="213.6" x2="668.8" y2="217.3"/>
</g>
<line x1="404.5" y1="202.8" x2="676" y2="202.8" stroke="#000" stroke-width="2" stroke-dasharray="7 5.56"/>
<g stroke="#8c8c8c" stroke-width="1.2">
<line x1="438.5" y1="148.6" x2="438.5" y2="177.1"/><line x1="436.5" y1="148.6" x2="440.5" y2="148.6"/>
<line x1="636.5" y1="25.3" x2="636.5" y2="125.8"/><line x1="634.5" y1="25.3" x2="638.5" y2="25.3"/>
</g>
<polyline points="438.6,177.1 504.5,197.7 570.3,197.6 636.4,125.8" fill="none" stroke="#4472C4" stroke-width="2.0" stroke-linejoin="round"/>
<circle cx="438.6" cy="177.1" r="2.4" fill="#4472C4"/>
<circle cx="504.5" cy="197.7" r="2.4" fill="#4472C4"/>
<circle cx="570.3" cy="197.6" r="2.4" fill="#4472C4"/>
<circle cx="636.4" cy="125.8" r="2.4" fill="#4472C4"/>
<line x1="620.2" y1="15" x2="621.1" y2="217" stroke="#ED7D31" stroke-width="2" stroke-dasharray="7.5 5.08"/>
<g class="t" stroke-width="0.25">
<text x="0.01" y="19.50" font-size="15.8" font-weight="bold" fill="#000" stroke="#000" textLength="11.31" lengthAdjust="spacingAndGlyphs">A</text>
<text x="20.74" y="216.57" font-size="11" fill="#2a2a2a" stroke="#2a2a2a" textLength="16.82" lengthAdjust="spacingAndGlyphs">-10</text>
<text x="29.88" y="198.40" font-size="11" fill="#2a2a2a" stroke="#2a2a2a" textLength="6.86" lengthAdjust="spacingAndGlyphs">0</text>
<text x="24.16" y="180.23" font-size="11" fill="#2a2a2a" stroke="#2a2a2a" textLength="12.70" lengthAdjust="spacingAndGlyphs">10</text>
<text x="24.16" y="162.06" font-size="11" fill="#2a2a2a" stroke="#2a2a2a" textLength="12.70" lengthAdjust="spacingAndGlyphs">20</text>
<text x="24.16" y="143.89" font-size="11" fill="#2a2a2a" stroke="#2a2a2a" textLength="12.70" lengthAdjust="spacingAndGlyphs">30</text>
<text x="25.20" y="125.72" font-size="11" fill="#2a2a2a" stroke="#2a2a2a" textLength="11.64" lengthAdjust="spacingAndGlyphs">40</text>
<text x="24.16" y="107.55" font-size="11" fill="#2a2a2a" stroke="#2a2a2a" textLength="12.70" lengthAdjust="spacingAndGlyphs">50</text>
<text x="24.16" y="89.38" font-size="11" fill="#2a2a2a" stroke="#2a2a2a" textLength="12.70" lengthAdjust="spacingAndGlyphs">60</text>
<text x="24.16" y="71.21" font-size="11" fill="#2a2a2a" stroke="#2a2a2a" textLength="12.70" lengthAdjust="spacingAndGlyphs">70</text>
<text x="24.16" y="53.04" font-size="11" fill="#2a2a2a" stroke="#2a2a2a" textLength="12.70" lengthAdjust="spacingAndGlyphs">80</text>
<text x="24.16" y="34.87" font-size="11" fill="#2a2a2a" stroke="#2a2a2a" textLength="12.70" lengthAdjust="spacingAndGlyphs">90</text>
<text x="18.18" y="16.70" font-size="11" fill="#2a2a2a" stroke="#2a2a2a" textLength="18.79" lengthAdjust="spacingAndGlyphs">100</text>
<text x="44.48" y="231.60" font-size="11" fill="#2a2a2a" stroke="#2a2a2a" textLength="6.86" lengthAdjust="spacingAndGlyphs">0</text>
<text x="85.66" y="231.60" font-size="11" fill="#2a2a2a" stroke="#2a2a2a" textLength="12.47" lengthAdjust="spacingAndGlyphs">10</text>
<text x="129.54" y="231.60" font-size="11" fill="#2a2a2a" stroke="#2a2a2a" textLength="12.47" lengthAdjust="spacingAndGlyphs">20</text>
<text x="173.42" y="231.60" font-size="11" fill="#2a2a2a" stroke="#2a2a2a" textLength="12.47" lengthAdjust="spacingAndGlyphs">30</text>
<text x="218.32" y="231.60" font-size="11" fill="#2a2a2a" stroke="#2a2a2a" textLength="11.43" lengthAdjust="spacingAndGlyphs">40</text>
<text x="261.18" y="231.60" font-size="11" fill="#2a2a2a" stroke="#2a2a2a" textLength="12.47" lengthAdjust="spacingAndGlyphs">50</text>
<text x="305.06" y="231.60" font-size="11" fill="#2a2a2a" stroke="#2a2a2a" textLength="12.47" lengthAdjust="spacingAndGlyphs">60</text>
<text x="139.20" y="241.40" font-size="11" fill="#000" stroke="#000" textLength="61.13" lengthAdjust="spacingAndGlyphs">Time (hours)</text>
<text transform="translate(17.90,212.37) rotate(-90)" font-size="11.6" fill="#000" stroke="#000" textLength="166.73" lengthAdjust="spacingAndGlyphs">% Maximum ThT fluorescence</text>
<text x="277.69" y="23.80" font-size="11" fill="#262626" stroke="#262626" textLength="42.63" lengthAdjust="spacingAndGlyphs">1500 dpi</text>
<text x="281.38" y="40.80" font-size="11" fill="#262626" stroke="#262626" textLength="36.92" lengthAdjust="spacingAndGlyphs">936 dpi</text>
<text x="273.00" y="86.60" font-size="11" fill="#262626" stroke="#262626" textLength="42.22" lengthAdjust="spacingAndGlyphs">1208 dpi</text>
<text x="273.49" y="125.90" font-size="11" fill="#262626" stroke="#262626" textLength="42.63" lengthAdjust="spacingAndGlyphs">1090 dpi</text>
<text x="355.00" y="19.30" font-size="16.3" font-weight="bold" fill="#000" stroke="#000" textLength="9.41" lengthAdjust="spacingAndGlyphs">B</text>
<text x="372.90" y="217.80" font-size="11" fill="#595959" stroke="#595959" textLength="21.42" lengthAdjust="spacingAndGlyphs">0,00</text>
<text x="372.90" y="177.30" font-size="11" fill="#595959" stroke="#595959" textLength="21.42" lengthAdjust="spacingAndGlyphs">0,50</text>
<text x="372.90" y="136.80" font-size="11" fill="#595959" stroke="#595959" textLength="21.42" lengthAdjust="spacingAndGlyphs">1,00</text>
<text x="372.90" y="96.30" font-size="11" fill="#595959" stroke="#595959" textLength="21.42" lengthAdjust="spacingAndGlyphs">1,50</text>
<text x="372.90" y="55.80" font-size="11" fill="#595959" stroke="#595959" textLength="21.42" lengthAdjust="spacingAndGlyphs">2,00</text>
<text x="372.90" y="15.30" font-size="11" fill="#595959" stroke="#595959" textLength="21.42" lengthAdjust="spacingAndGlyphs">2,50</text>
<text x="428.45" y="233.10" font-size="11" fill="#595959" stroke="#595959" textLength="19.33" lengthAdjust="spacingAndGlyphs">936</text>
<text x="491.90" y="233.10" font-size="11" fill="#595959" stroke="#595959" textLength="24.48" lengthAdjust="spacingAndGlyphs">1090</text>
<text x="557.79" y="233.10" font-size="11" fill="#595959" stroke="#595959" textLength="24.80" lengthAdjust="spacingAndGlyphs">1208</text>
<text x="620.48" y="233.10" font-size="11" fill="#595959" stroke="#595959" textLength="31.65" lengthAdjust="spacingAndGlyphs">&gt;1260</text>
<text x="483.81" y="242.40" font-size="11" fill="#000" stroke="#000" textLength="126.58" lengthAdjust="spacingAndGlyphs">Days Postinoculation (dpi)</text>
<text transform="translate(366.40,159.70) rotate(-90)" font-size="11.6" fill="#000" stroke="#000" textLength="86.80" lengthAdjust="spacingAndGlyphs">log SD50/µl CSF</text>
<text x="620.12" y="7.70" font-size="11" fill="#000" stroke="#000" textLength="63.79" lengthAdjust="spacingAndGlyphs">Clinical onset</text>
<text x="406.95" y="212.10" font-size="11" fill="#000" stroke="#000" textLength="70.83" lengthAdjust="spacingAndGlyphs">detection limit</text>
</g>
</svg></body></html>
